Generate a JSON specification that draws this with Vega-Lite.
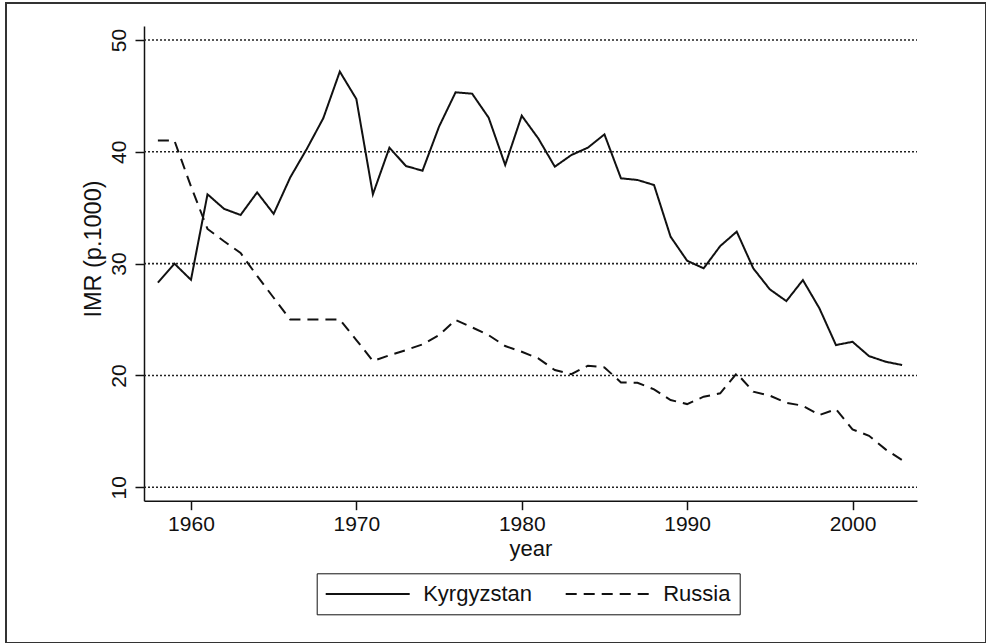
{
  "$schema": "https://vega.github.io/schema/vega-lite/v6.json",
  "width": 980,
  "height": 640,
  "padding": {"left": 6, "top": 3, "right": 0, "bottom": 0},
  "autosize": {"type": "none"},
  "background": "white",
  "config": {
    "view": {"stroke": "#333333", "strokeWidth": 2},
    "font": "Liberation Sans"
  },
  "datasets": {
    "grid": [{"imr": 10}, {"imr": 20}, {"imr": 30}, {"imr": 40}, {"imr": 50}],
    "imr": [
      {"year": 1958, "country": "Kyrgyzstan", "imr": 28.3},
      {"year": 1959, "country": "Kyrgyzstan", "imr": 30.0},
      {"year": 1960, "country": "Kyrgyzstan", "imr": 28.55},
      {"year": 1961, "country": "Kyrgyzstan", "imr": 36.2},
      {"year": 1962, "country": "Kyrgyzstan", "imr": 34.9},
      {"year": 1963, "country": "Kyrgyzstan", "imr": 34.35},
      {"year": 1964, "country": "Kyrgyzstan", "imr": 36.37},
      {"year": 1965, "country": "Kyrgyzstan", "imr": 34.45},
      {"year": 1966, "country": "Kyrgyzstan", "imr": 37.7},
      {"year": 1967, "country": "Kyrgyzstan", "imr": 40.25},
      {"year": 1968, "country": "Kyrgyzstan", "imr": 43.0},
      {"year": 1969, "country": "Kyrgyzstan", "imr": 47.17},
      {"year": 1970, "country": "Kyrgyzstan", "imr": 44.72},
      {"year": 1971, "country": "Kyrgyzstan", "imr": 36.2},
      {"year": 1972, "country": "Kyrgyzstan", "imr": 40.37},
      {"year": 1973, "country": "Kyrgyzstan", "imr": 38.73},
      {"year": 1974, "country": "Kyrgyzstan", "imr": 38.31},
      {"year": 1975, "country": "Kyrgyzstan", "imr": 42.25},
      {"year": 1976, "country": "Kyrgyzstan", "imr": 45.32},
      {"year": 1977, "country": "Kyrgyzstan", "imr": 45.2},
      {"year": 1978, "country": "Kyrgyzstan", "imr": 43.05},
      {"year": 1979, "country": "Kyrgyzstan", "imr": 38.82},
      {"year": 1980, "country": "Kyrgyzstan", "imr": 43.23},
      {"year": 1981, "country": "Kyrgyzstan", "imr": 41.2},
      {"year": 1982, "country": "Kyrgyzstan", "imr": 38.67},
      {"year": 1983, "country": "Kyrgyzstan", "imr": 39.71},
      {"year": 1984, "country": "Kyrgyzstan", "imr": 40.37},
      {"year": 1985, "country": "Kyrgyzstan", "imr": 41.56},
      {"year": 1986, "country": "Kyrgyzstan", "imr": 37.63},
      {"year": 1987, "country": "Kyrgyzstan", "imr": 37.48},
      {"year": 1988, "country": "Kyrgyzstan", "imr": 37.03},
      {"year": 1989, "country": "Kyrgyzstan", "imr": 32.41},
      {"year": 1990, "country": "Kyrgyzstan", "imr": 30.26},
      {"year": 1991, "country": "Kyrgyzstan", "imr": 29.58},
      {"year": 1992, "country": "Kyrgyzstan", "imr": 31.57},
      {"year": 1993, "country": "Kyrgyzstan", "imr": 32.86},
      {"year": 1994, "country": "Kyrgyzstan", "imr": 29.58},
      {"year": 1995, "country": "Kyrgyzstan", "imr": 27.7},
      {"year": 1996, "country": "Kyrgyzstan", "imr": 26.65},
      {"year": 1997, "country": "Kyrgyzstan", "imr": 28.53},
      {"year": 1998, "country": "Kyrgyzstan", "imr": 26.0},
      {"year": 1999, "country": "Kyrgyzstan", "imr": 22.72},
      {"year": 2000, "country": "Kyrgyzstan", "imr": 23.01},
      {"year": 2001, "country": "Kyrgyzstan", "imr": 21.73},
      {"year": 2002, "country": "Kyrgyzstan", "imr": 21.23},
      {"year": 2003, "country": "Kyrgyzstan", "imr": 20.93},
      {"year": 1958, "country": "Russia", "imr": 41.0},
      {"year": 1959, "country": "Russia", "imr": 41.0},
      {"year": 1960, "country": "Russia", "imr": 36.9},
      {"year": 1961, "country": "Russia", "imr": 33.1},
      {"year": 1962, "country": "Russia", "imr": 32.0},
      {"year": 1963, "country": "Russia", "imr": 30.95},
      {"year": 1964, "country": "Russia", "imr": 28.9},
      {"year": 1965, "country": "Russia", "imr": 26.95},
      {"year": 1966, "country": "Russia", "imr": 25.0},
      {"year": 1967, "country": "Russia", "imr": 25.0},
      {"year": 1968, "country": "Russia", "imr": 25.0},
      {"year": 1969, "country": "Russia", "imr": 25.0},
      {"year": 1970, "country": "Russia", "imr": 23.17},
      {"year": 1971, "country": "Russia", "imr": 21.3},
      {"year": 1972, "country": "Russia", "imr": 21.8},
      {"year": 1973, "country": "Russia", "imr": 22.27},
      {"year": 1974, "country": "Russia", "imr": 22.78},
      {"year": 1975, "country": "Russia", "imr": 23.6},
      {"year": 1976, "country": "Russia", "imr": 24.96},
      {"year": 1977, "country": "Russia", "imr": 24.3},
      {"year": 1978, "country": "Russia", "imr": 23.6},
      {"year": 1979, "country": "Russia", "imr": 22.63},
      {"year": 1980, "country": "Russia", "imr": 22.12},
      {"year": 1981, "country": "Russia", "imr": 21.53},
      {"year": 1982, "country": "Russia", "imr": 20.48},
      {"year": 1983, "country": "Russia", "imr": 20.12},
      {"year": 1984, "country": "Russia", "imr": 20.87},
      {"year": 1985, "country": "Russia", "imr": 20.72},
      {"year": 1986, "country": "Russia", "imr": 19.38},
      {"year": 1987, "country": "Russia", "imr": 19.35},
      {"year": 1988, "country": "Russia", "imr": 18.76},
      {"year": 1989, "country": "Russia", "imr": 17.8},
      {"year": 1990, "country": "Russia", "imr": 17.44},
      {"year": 1991, "country": "Russia", "imr": 18.1},
      {"year": 1992, "country": "Russia", "imr": 18.4},
      {"year": 1993, "country": "Russia", "imr": 20.19},
      {"year": 1994, "country": "Russia", "imr": 18.55},
      {"year": 1995, "country": "Russia", "imr": 18.2},
      {"year": 1996, "country": "Russia", "imr": 17.56},
      {"year": 1997, "country": "Russia", "imr": 17.29},
      {"year": 1998, "country": "Russia", "imr": 16.46},
      {"year": 1999, "country": "Russia", "imr": 16.99},
      {"year": 2000, "country": "Russia", "imr": 15.18},
      {"year": 2001, "country": "Russia", "imr": 14.6},
      {"year": 2002, "country": "Russia", "imr": 13.39},
      {"year": 2003, "country": "Russia", "imr": 12.43}
    ]
  },
  "layer": [
    {
      "data": {"name": "grid"},
      "mark": {"type": "rule", "strokeDash": [2, 2], "strokeWidth": 1.6, "color": "#222222"},
      "encoding": {
        "y": {"field": "imr", "type": "quantitative", "title": "IMR (p.1000)"},
        "x": {"datum": 1957.16, "type": "quantitative", "title": "year"},
        "x2": {"datum": 2003.9}
      }
    },
    {
      "data": {"name": "imr"},
      "mark": {"type": "line", "strokeWidth": 2, "color": "#111111"},
      "encoding": {
        "x": {
          "field": "year",
          "type": "quantitative",
          "title": "year",
          "scale": {"domain": [1957.16, 2003.9], "range": [138, 911], "nice": false, "zero": false},
          "axis": {
            "values": [1960, 1970, 1980, 1990, 2000],
            "format": "d",
            "offset": -142.3,
            "grid": false,
            "domainColor": "#111111",
            "domainWidth": 1.5,
            "tickColor": "#111111",
            "tickWidth": 1.5,
            "tickSize": 9,
            "labelAngle": 0,
            "labelAlign": "center",
            "labelBaseline": "alphabetic",
            "labelPadding": 20.3,
            "labelFontSize": 21,
            "labelColor": "#111111",
            "labelFlush": false,
            "labelOverlap": false,
            "titleFontSize": 22,
            "titleFontWeight": "normal",
            "titleColor": "#111111",
            "titleX": 524.5,
            "titleY": 54.3,
            "titleAlign": "center",
            "titleBaseline": "alphabetic"
          }
        },
        "y": {
          "field": "imr",
          "type": "quantitative",
          "title": "IMR (p.1000)",
          "scale": {"domain": [8.8, 51.25], "range": [497.7, 23], "nice": false, "zero": false},
          "axis": {
            "values": [10, 20, 30, 40, 50],
            "format": "d",
            "offset": -138,
            "grid": false,
            "domainColor": "#111111",
            "domainWidth": 1.5,
            "tickColor": "#111111",
            "tickWidth": 1.5,
            "tickSize": 9,
            "labelAngle": -90,
            "labelAlign": "center",
            "labelBaseline": "alphabetic",
            "labelPadding": 10,
            "labelFontSize": 21,
            "labelColor": "#111111",
            "labelFlush": false,
            "labelOverlap": false,
            "titleFontSize": 23.5,
            "titleFontWeight": "normal",
            "titleColor": "#111111",
            "titleAngle": 270,
            "titleX": -44,
            "titleY": 245.5,
            "titleAlign": "center",
            "titleBaseline": "alphabetic"
          }
        },
        "strokeDash": {
          "field": "country",
          "type": "nominal",
          "scale": {"domain": ["Kyrgyzstan", "Russia"], "range": [[1, 0], [11, 7]]},
          "legend": {
            "title": null,
            "orient": "none",
            "legendX": 310.7,
            "legendY": 570.3,
            "direction": "horizontal",
            "strokeColor": "#111111",
            "fillColor": "white",
            "padding": 9,
            "symbolType": "M-4,0H4",
            "symbolSize": 441,
            "symbolStrokeWidth": 2,
            "symbolStrokeColor": "#111111",
            "symbolOffset": 30.5,
            "labelOffset": 44,
            "labelFontSize": 22,
            "labelColor": "#111111",
            "labelLimit": 300,
            "columnPadding": 29
          }
        }
      }
    }
  ]
}
